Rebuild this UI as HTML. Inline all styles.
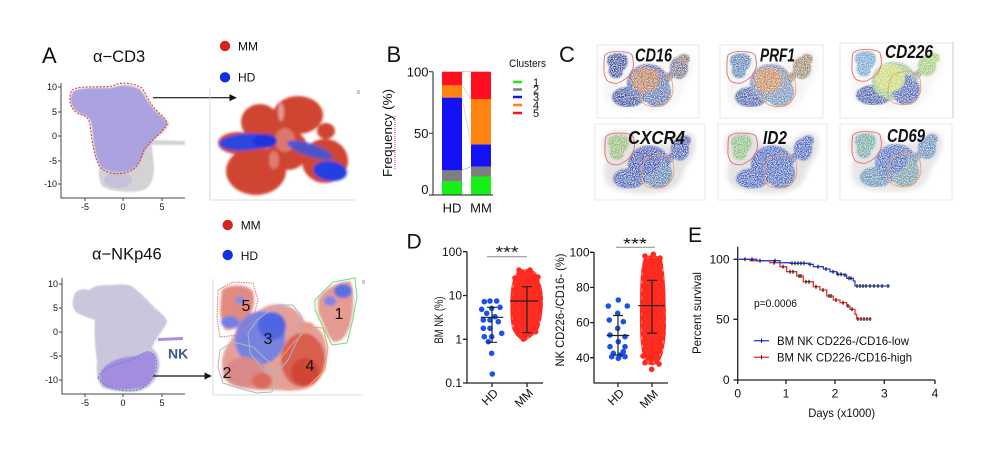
<!DOCTYPE html>
<html><head><meta charset="utf-8">
<style>
html,body{margin:0;padding:0;background:#fff;}
svg{display:block;}
text{font-family:"Liberation Sans",Arial,sans-serif;fill:#111;}
</style></head><body>
<svg width="981" height="451" viewBox="0 0 981 451" xmlns="http://www.w3.org/2000/svg">
<defs>
 <filter id="b06" x="-20%" y="-20%" width="140%" height="140%"><feGaussianBlur stdDeviation="0.7"/></filter>
 <filter id="b1" x="-20%" y="-20%" width="140%" height="140%"><feGaussianBlur stdDeviation="1.3"/></filter>
 <filter id="b3" x="-30%" y="-30%" width="160%" height="160%"><feGaussianBlur stdDeviation="2.5"/></filter>
 <filter id="speck" x="0" y="0" width="100%" height="100%">
  <feTurbulence type="fractalNoise" baseFrequency="1.1" numOctaves="1" seed="7" result="n"/>
  <feColorMatrix in="n" type="matrix" values="0 0 0 0 1  0 0 0 0 1  0 0 0 0 1  0 0 0 -3 1.75" result="w"/>
  <feComposite in="w" in2="SourceAlpha" operator="in" result="wm"/>
  <feMerge><feMergeNode in="SourceGraphic"/><feMergeNode in="wm"/></feMerge>
 </filter>
 <marker id="arr" viewBox="0 0 10 10" refX="9" refY="5" markerWidth="6" markerHeight="6" orient="auto"><path d="M0,0 L10,5 L0,10 z" fill="#111"/></marker>
 <pattern id="pr" width="6" height="8" patternUnits="userSpaceOnUse">
  <circle cx="3" cy="2" r="2.8" fill="#ff2a1f"/><circle cx="3" cy="10" r="2.8" fill="#ff2a1f"/>
  <circle cx="0" cy="6" r="2.8" fill="#ff2a1f"/><circle cx="6" cy="6" r="2.8" fill="#ff2a1f"/>
  <circle cx="0" cy="-2" r="2.8" fill="#ff2a1f"/><circle cx="6" cy="-2" r="2.8" fill="#ff2a1f"/>
 </pattern>
</defs>

<!-- ============ PANEL A ============ -->
<text x="42" y="63" font-size="22">A</text>
<text x="93" y="62" font-size="16.5">α−CD3</text>
<circle cx="225" cy="46" r="5.2" fill="#d0261c"/>
<text x="238" y="50.5" font-size="12">MM</text>
<circle cx="225" cy="77.3" r="5.2" fill="#1030e0"/>
<text x="238" y="81.7" font-size="12">HD</text>

<!-- top-left UMAP -->
<path d="M72,92 C80,86 100,88 113,87 C120,84 132,83 141,89 C147,96 149,103 156,110 C162,116 169,120 169,125 C166,132 158,137 153,140 L185,141 L185,145 L152,145 C152,152 154,160 154,168 C154,180 150,189 140,191 C128,193 108,191 102,186 C98,178 98,170 100,166 C94,158 93,140 91,125 C90,118 86,115 80,114 C74,111 70,106 70,98 Z" fill="#d3d3d5" filter="url(#b06)"/>
<path d="M73,92 C80,87 100,89 113,88 C120,85 131,85 140,90 C145,97 148,104 155,111 C160,116 166,120 167,124 C162,132 152,140 145,150 C141,160 138,168 128,171 C118,173 106,172 101,166 C95,158 94,140 92,125 C91,118 86,115 80,113 C75,110 71,106 71,98 Z" fill="#aaa2de" filter="url(#b06)"/>
<ellipse cx="118" cy="180" rx="14" ry="8" fill="#bdb6dc" opacity="0.6"/>
<path d="M72,90 C80,85 100,88 113,86 C118,82 132,82 142,88 C147,95 149,103 156,110 C161,115 167,120 167,124 C162,133 151,140 144,150 C140,160 139,168 128,172 C118,175 106,174 100,167 C94,158 92,140 90,125 C89,118 85,115 79,114 C73,111 69,105 70,97 C70,94 71,92 72,90 Z" fill="none" stroke="#e53a3a" stroke-width="1.1" stroke-dasharray="2 1.5"/>
<g stroke="#444" stroke-width="1" fill="none">
 <path d="M61,83 V198 H185"/>
 <path d="M58,87 H61 M58,112 H61 M58,136 H61 M58,161 H61 M58,184 H61 M85,198 V201 M123,198 V201 M162,198 V201"/>
</g>
<g font-size="9" text-anchor="end" fill="#333">
 <text x="57" y="90">10</text><text x="57" y="115">5</text><text x="57" y="139">0</text><text x="57" y="164">-5</text><text x="57" y="187">-10</text>
</g>
<g font-size="9" text-anchor="middle" fill="#333">
 <text x="85" y="210">-5</text><text x="123" y="210">0</text><text x="162" y="210">5</text>
</g>
<line x1="153" y1="97.7" x2="236" y2="97.7" stroke="#111" stroke-width="1.2" marker-end="url(#arr)"/>

<!-- top-right UMAP -->
<g stroke="#d2d2d2" stroke-width="0.8" fill="none"><path d="M210,88 V200 H355"/></g>
<line x1="357" y1="91" x2="360" y2="91" stroke="#e06060" stroke-width="0.8"/>
<line x1="357" y1="93" x2="360" y2="93" stroke="#6060e0" stroke-width="0.8"/>
<g filter="url(#b1)">
 <g fill="#d04433">
  <ellipse cx="256" cy="171" rx="30" ry="24"/>
  <ellipse cx="260" cy="122" rx="19" ry="18"/>
  <ellipse cx="298" cy="115" rx="25" ry="19"/>
  <ellipse cx="326" cy="131" rx="9" ry="8"/>
  <ellipse cx="325" cy="161" rx="23" ry="22"/>
  <ellipse cx="288" cy="150" rx="20" ry="20"/>
  <ellipse cx="238" cy="143" rx="20" ry="11"/>
  <ellipse cx="278" cy="132" rx="14" ry="12"/>
 </g>
 <ellipse cx="285" cy="140" rx="10" ry="12" fill="#e0857a" opacity="0.8"/>
 <ellipse cx="246" cy="142" rx="27" ry="8.5" transform="rotate(-4 246 142)" fill="#2a46e0"/>
 <ellipse cx="265" cy="141" rx="12" ry="7" fill="#1c35d8"/>
 <ellipse cx="310" cy="150" rx="24" ry="6.5" transform="rotate(18 310 150)" fill="#3a55e0" opacity="0.85"/>
 <ellipse cx="330" cy="171" rx="17" ry="10" transform="rotate(8 330 171)" fill="#2340e0"/>
 <ellipse cx="281" cy="112" rx="3" ry="9" fill="#fff" opacity="0.45"/>
 <ellipse cx="274" cy="160" rx="5" ry="9" fill="#fff" opacity="0.3"/>
</g>

<!-- bottom A -->
<circle cx="227.7" cy="225" r="5.2" fill="#d0261c"/>
<text x="240.7" y="229.3" font-size="12">MM</text>
<circle cx="227.7" cy="255" r="5.2" fill="#1030e0"/>
<text x="240.7" y="260" font-size="12">HD</text>
<text x="92" y="259.5" font-size="16.5">α−NKp46</text>

<path d="M74,296 C75,290 82,288 90,290 C93,286 98,285 112,285 C122,284 130,284 134,288 C141,293 148,301 155,308 C162,314 167,318 167,322 C164,330 156,337 152,348 C158,352 161,360 159,370 C156,382 149,388 140,391 C125,393 108,391 102,387 C97,381 96,372 97,362 C95,347 94,332 95,320 C90,318 82,316 76,312 C72,308 72,301 74,296 Z" fill="#cac6db" filter="url(#b06)"/>
<path d="M158,338 L183,337 L183,340 L158,341 Z" fill="#a890e0"/>
<path d="M101,372 C106,362 120,357 136,356 C146,352 152,350 155,356 C158,366 154,380 144,387 C130,391 112,390 104,386 C100,382 99,377 101,372 Z" fill="#a48ce0" filter="url(#b06)"/>
<path d="M98,378 C100,370 112,366 130,360 C140,357 145,350 150,352 C158,356 159,368 153,377 C148,386 140,391 128,391 C115,390 103,386 98,378 Z" fill="none" stroke="#5a8fc0" stroke-width="1.1" stroke-dasharray="2 1.5"/>
<text x="168" y="358.5" font-size="14" font-weight="bold" style="fill:#3a5a8c">NK</text>
<g stroke="#444" stroke-width="1" fill="none">
 <path d="M62,278 V394 H185"/>
 <path d="M59,284 H62 M59,308 H62 M59,332 H62 M59,356 H62 M59,380 H62 M85,394 V397 M123,394 V397 M162,394 V397"/>
</g>
<g font-size="9" text-anchor="end" fill="#333">
 <text x="58" y="287">10</text><text x="58" y="311">5</text><text x="58" y="335">0</text><text x="58" y="359">-5</text><text x="58" y="383">-10</text>
</g>
<g font-size="9" text-anchor="middle" fill="#333">
 <text x="85" y="406">-5</text><text x="123" y="406">0</text><text x="162" y="406">5</text>
</g>
<line x1="153" y1="376" x2="211" y2="376" stroke="#111" stroke-width="1.2" marker-end="url(#arr)"/>

<!-- bottom-right cluster UMAP -->
<g stroke="#d2d2d2" stroke-width="0.8" fill="none"><path d="M213,279 V395 H362"/></g>
<line x1="362" y1="281" x2="365" y2="281" stroke="#e06060" stroke-width="0.8"/>
<line x1="362" y1="283" x2="365" y2="283" stroke="#6060e0" stroke-width="0.8"/>
<g filter="url(#b1)">
 <path d="M222,290 C228,284 245,284 252,290 C256,298 254,310 248,318 C242,326 236,330 226,330 C220,326 219,310 222,290 Z" fill="#e38a80"/>
 <ellipse cx="230" cy="322" rx="9" ry="6" fill="#6f80e6"/>
 <ellipse cx="240" cy="300" rx="5" ry="4" fill="#8a8ee0"/>
 <path d="M318,300 C322,292 332,283 350,281 C355,290 354,310 350,325 C347,335 342,342 334,342 C328,338 324,325 318,312 Z" fill="#e59a92"/>
 <ellipse cx="343" cy="291" rx="9" ry="7" fill="#5a6fe0"/>
 <ellipse cx="330" cy="301" rx="6" ry="5" fill="#7b85e4"/>
 <path d="M228,345 C236,330 250,312 270,305 C285,302 298,308 305,322 C315,324 326,332 327,350 C327,370 318,388 300,390 C285,391 275,390 265,390 C250,390 230,388 224,378 C220,365 222,352 228,345 Z" fill="#e4a098"/>
 <ellipse cx="260" cy="338" rx="25" ry="27" transform="rotate(20 260 338)" fill="#6b7fe8" opacity="0.9"/>
 <ellipse cx="272" cy="326" rx="14" ry="14" fill="#4f66e2"/>
 <ellipse cx="303" cy="360" rx="22" ry="27" fill="#d9604f"/>
 <ellipse cx="305" cy="372" rx="14" ry="14" fill="#d04535"/>
 <ellipse cx="245" cy="372" rx="20" ry="15" fill="#d98a88"/>
 <ellipse cx="262" cy="381" rx="10" ry="8" fill="#dc6a5a"/>
 <ellipse cx="306" cy="326" rx="8" ry="4" fill="#e8958a"/>
</g>
<g fill="none" stroke-width="1" stroke-linejoin="round">
 <polygon points="218,290 233,282 253,283 258,300 252,323 238,335 220,337 217,317" stroke="#e07070" stroke-dasharray="1.5 1"/>
 <polygon points="315,300 333,282 355,278 357,297 352,323 347,343 332,345 323,327 315,310" stroke="#6ee06e"/>
 <polygon points="257,320 277,305 293,305 302,317 300,335 288,360 277,373 263,370 250,353 248,333" stroke="#9ab8d8"/>
 <polygon points="293,343 310,327 323,328 328,347 325,370 307,387 287,390 275,383 277,363" stroke="#f0a070"/>
 <polygon points="220,350 233,342 253,347 270,363 275,380 272,392 257,393 238,388 223,383 218,367" stroke="#b5b5b5"/>
</g>
<g font-size="16" text-anchor="middle">
 <text x="246" y="311">5</text><text x="339" y="319">1</text><text x="268" y="344">3</text><text x="310" y="371">4</text><text x="227" y="378">2</text>
</g>

<!-- ============ PANEL B ============ -->
<text x="386.5" y="62" font-size="22">B</text>
<g>
 <rect x="442" y="181.4" width="20" height="13.6" fill="#17f017"/>
 <rect x="442" y="170.3" width="20" height="11.1" fill="#7f7f7f"/>
 <rect x="442" y="97.6" width="20" height="72.7" fill="#1212f5"/>
 <rect x="442" y="85.3" width="20" height="12.3" fill="#ff8310"/>
 <rect x="442" y="71.7" width="20" height="13.6" fill="#ff0f1f"/>
 <rect x="471" y="176.5" width="20" height="18.5" fill="#17f017"/>
 <rect x="471" y="166.6" width="20" height="9.9" fill="#7f7f7f"/>
 <rect x="471" y="144.4" width="20" height="22.2" fill="#1212f5"/>
 <rect x="471" y="99" width="20" height="45.4" fill="#ff8310"/>
 <rect x="471" y="71.7" width="20" height="27.3" fill="#ff0f1f"/>
</g>
<g stroke-width="0.8" fill="none">
 <line x1="462" y1="71.7" x2="471" y2="71.7" stroke="#f6b0a0"/>
 <line x1="462" y1="85.3" x2="471" y2="99" stroke="#f6c0a0"/>
 <line x1="462" y1="97.6" x2="471" y2="144.4" stroke="#f8c8a8"/>
 <line x1="462" y1="170.3" x2="471" y2="166.6" stroke="#a8b0f0"/>
</g>
<g stroke="#444" stroke-width="1.2" fill="none">
 <path d="M433,71.7 V195 H493"/>
 <path d="M429,71.7 H433 M429,133.3 H433 M429,195 H433"/>
</g>
<g font-size="13" text-anchor="end">
 <text x="428.5" y="76.5">100</text><text x="428.5" y="138">50</text><text x="428.5" y="194">0</text>
</g>
<text x="392" y="133" font-size="13" text-anchor="middle" textLength="88" lengthAdjust="spacingAndGlyphs" transform="rotate(-90 392 133)">Frequency (%)</text>
<line x1="395" y1="116" x2="395" y2="170" stroke="#e03030" stroke-width="1" stroke-dasharray="1 1"/>
<g font-size="13" text-anchor="middle">
 <text x="452" y="212.5">HD</text><text x="481" y="212.5">MM</text>
</g>
<text x="509" y="67" font-size="11" textLength="37" lengthAdjust="spacingAndGlyphs">Clusters</text>
<g stroke-width="2.5">
 <line x1="513" y1="82" x2="522" y2="82" stroke="#17f017"/>
 <line x1="513" y1="89.5" x2="522" y2="89.5" stroke="#7f7f7f"/>
 <line x1="513" y1="97" x2="522" y2="97" stroke="#1212f5"/>
 <line x1="513" y1="105" x2="522" y2="105" stroke="#ff8310"/>
 <line x1="513" y1="113" x2="522" y2="113" stroke="#ff0f1f"/>
</g>
<g font-size="11">
 <text x="533" y="86">1</text><text x="533" y="93.5">2</text><text x="533" y="101">3</text><text x="533" y="109">4</text><text x="533" y="117">5</text>
</g>

<!-- ============ PANEL C ============ -->
<text x="559" y="62" font-size="22">C</text>
<g fill="#fff" stroke="#e2e2e2" stroke-width="0.8">
 <rect x="597" y="45" width="102" height="73"/>
 <rect x="720" y="45" width="103" height="73"/>
 <rect x="840" y="43" width="113" height="75"/>
 <rect x="595" y="124" width="110" height="76"/>
 <rect x="718" y="124" width="109" height="76"/>
 <rect x="840" y="124" width="112" height="76"/>
</g>
<line x1="953" y1="42" x2="953" y2="118" stroke="#c8c8c8" stroke-width="1"/>

<!-- tile 1 CD16 -->
<g transform="translate(598,43)">
 <path d="M4,14 C8,4 30,4 36,13 C40,20 44,22 50,21 C60,18 66,19 70,21 C72,10 86,5 95,11 C99,22 94,35 87,41 C83,55 79,66 60,68 C40,70 14,68 8,59 C3,50 6,40 8,34 C3,28 1,20 4,14 Z" fill="#b9b9b9" opacity="0.12" filter="url(#b3)"/>
 <g filter="url(#speck)"><g filter="url(#b06)">
  <path d="M10,14 C14,9 26,9 29,14 C31,20 28,26 24,28 C26,32 22,36 16,35 C11,33 9,27 12,24 C9,21 8,17 10,14 Z" fill="#2c3f9e"/>
  <ellipse cx="30" cy="54" rx="16" ry="10" fill="#2f45a2"/>
  <ellipse cx="50" cy="40" rx="21" ry="19" fill="#4a62ae"/>
  <ellipse cx="59" cy="49" rx="14" ry="15" fill="#5570b0"/>
  <ellipse cx="47" cy="37" rx="14" ry="13" fill="#b27450"/>
  <path d="M64,34 L76,26 L80,30 L68,41 Z" fill="#6d6a8a"/>
  <ellipse cx="81" cy="25" rx="9" ry="11" fill="#6d6a8a"/>
  <ellipse cx="86" cy="16" rx="6" ry="5" fill="#8a7068"/>
 </g></g>
 <path d="M7,12 C12,8 18,8.5 22,8.7 C28,9 33,10 34,12 C35.5,17 35.5,21 35.3,23.7 C34,28 32,32 30.3,33.7 C26,37 22,40 18.7,40.3 C14,40.5 10,39 8.7,37 C6,33 5.5,28 6,23.7 C6,19 6,15 7,12 Z" fill="none" stroke="#e86a6a" stroke-width="0.9"/>
 <path d="M47,33.7 C54,31 60,30 63.7,30.3 C68,31 72,34 73.7,37 C75,42 75,47 74.7,50.3 C73,55 71,58 68.7,60.3 C64,63 59,64 55.3,63.7 C51,63 47,62 45.3,60.3 C43,57 42,55 42,52 C42,45 44,38 47,33.7 Z" fill="none" stroke="#f0a070" stroke-width="0.9"/>
</g>
<!-- tile 2 PRF1 -->
<g transform="translate(721,43)">
 <path d="M4,14 C8,4 30,4 36,13 C40,20 44,22 50,21 C60,18 66,19 70,21 C72,10 86,5 95,11 C99,22 94,35 87,41 C83,55 79,66 60,68 C40,70 14,68 8,59 C3,50 6,40 8,34 C3,28 1,20 4,14 Z" fill="#b9b9b9" opacity="0.15" filter="url(#b3)"/>
 <g filter="url(#speck)"><g filter="url(#b06)">
  <path d="M10,14 C14,9 26,9 29,14 C31,20 28,26 24,28 C26,32 22,36 16,35 C11,33 9,27 12,24 C9,21 8,17 10,14 Z" fill="#4f7fb5"/>
  <ellipse cx="30" cy="54" rx="16" ry="10" fill="#3e5aa9"/>
  <ellipse cx="50" cy="40" rx="21" ry="19" fill="#6a86b8"/>
  <ellipse cx="59" cy="49" rx="14" ry="15" fill="#7090b8"/>
  <ellipse cx="47" cy="37" rx="14" ry="13" fill="#c0844e"/>
  <path d="M64,34 L76,26 L80,30 L68,41 Z" fill="#8a8078"/>
  <ellipse cx="81" cy="25" rx="9" ry="11" fill="#9a8068"/>
  <ellipse cx="86" cy="16" rx="6" ry="5" fill="#a08060"/>
 </g></g>
 <path d="M7,12 C12,8 18,8.5 22,8.7 C28,9 33,10 34,12 C35.5,17 35.5,21 35.3,23.7 C34,28 32,32 30.3,33.7 C26,37 22,40 18.7,40.3 C14,40.5 10,39 8.7,37 C6,33 5.5,28 6,23.7 C6,19 6,15 7,12 Z" fill="none" stroke="#e86a6a" stroke-width="0.9"/>
 <path d="M47,33.7 C54,31 60,30 63.7,30.3 C68,31 72,34 73.7,37 C75,42 75,47 74.7,50.3 C73,55 71,58 68.7,60.3 C64,63 59,64 55.3,63.7 C51,63 47,62 45.3,60.3 C43,57 42,55 42,52 C42,45 44,38 47,33.7 Z" fill="none" stroke="#f0a070" stroke-width="0.9"/>
</g>
<!-- tile 3 CD226 -->
<g transform="translate(846,41)">
 <path d="M4,14 C8,4 30,4 36,13 C40,20 44,22 50,21 C60,18 66,19 70,21 C72,10 86,5 95,11 C99,22 94,35 87,41 C83,55 79,66 60,68 C40,70 14,68 8,59 C3,50 6,40 8,34 C3,28 1,20 4,14 Z" fill="#b9b9b9" opacity="0.12" filter="url(#b3)"/>
 <g filter="url(#speck)"><g filter="url(#b06)">
  <path d="M10,14 C14,9 26,9 29,14 C31,20 28,26 24,28 C26,32 22,36 16,35 C11,33 9,27 12,24 C9,21 8,17 10,14 Z" fill="#6ca2cf"/>
  <ellipse cx="28" cy="54" rx="18" ry="10" fill="#3a58ab"/>
  <ellipse cx="48" cy="40" rx="22" ry="19" fill="#98c48a"/>
  <ellipse cx="60" cy="49" rx="14" ry="15" fill="#3f62b6"/>
  <ellipse cx="44" cy="37" rx="15" ry="14" fill="#c6da66"/>
  <path d="M64,34 L76,26 L80,30 L68,41 Z" fill="#7aa8a0"/>
  <ellipse cx="81" cy="25" rx="9" ry="10" fill="#9dc872"/>
  <ellipse cx="87" cy="17" rx="7" ry="5" fill="#a8d070"/>
 </g></g>
 <path d="M7,12 C12,8 18,8.5 22,8.7 C28,9 33,10 34,12 C35.5,17 35.5,21 35.3,23.7 C34,28 32,32 30.3,33.7 C26,37 22,40 18.7,40.3 C14,40.5 10,39 8.7,37 C6,33 5.5,28 6,23.7 C6,19 6,15 7,12 Z" fill="none" stroke="#e86a6a" stroke-width="0.9"/>
 <path d="M47,33.7 C54,31 60,30 63.7,30.3 C68,31 72,34 73.7,37 C75,42 75,47 74.7,50.3 C73,55 71,58 68.7,60.3 C64,63 59,64 55.3,63.7 C51,63 47,62 45.3,60.3 C43,57 42,55 42,52 C42,45 44,38 47,33.7 Z" fill="none" stroke="#f0a070" stroke-width="0.9"/>
</g>
<!-- tile 4 CXCR4 -->
<g transform="translate(599,124.5)">
 <path d="M4,14 C8,4 30,4 36,13 C40,20 44,22 50,21 C60,18 66,19 70,21 C72,10 86,5 95,11 C99,22 94,35 87,41 C83,55 79,66 60,68 C40,70 14,68 8,59 C3,50 6,40 8,34 C3,28 1,20 4,14 Z" fill="#b0b0b0" opacity="0.35" filter="url(#b3)"/>
 <g filter="url(#speck)"><g filter="url(#b06)">
  <path d="M10,14 C14,9 26,9 29,14 C31,20 28,26 24,28 C26,32 22,36 16,35 C11,33 9,27 12,24 C9,21 8,17 10,14 Z" fill="#8fb86a"/>
  <ellipse cx="30" cy="54" rx="16" ry="10" fill="#3b5db5"/>
  <ellipse cx="50" cy="40" rx="21" ry="19" fill="#3050b2"/>
  <ellipse cx="59" cy="49" rx="14" ry="15" fill="#4f7eb0"/>
  <ellipse cx="47" cy="37" rx="14" ry="13" fill="#2e4cb0"/>
  <path d="M64,34 L76,26 L80,30 L68,41 Z" fill="#3454b4"/>
  <ellipse cx="81" cy="25" rx="9" ry="11" fill="#3454b4"/>
  <ellipse cx="86" cy="16" rx="6" ry="5" fill="#3454b4"/>
 </g></g>
 <path d="M7,12 C12,8 18,8.5 22,8.7 C28,9 33,10 34,12 C35.5,17 35.5,21 35.3,23.7 C34,28 32,32 30.3,33.7 C26,37 22,40 18.7,40.3 C14,40.5 10,39 8.7,37 C6,33 5.5,28 6,23.7 C6,19 6,15 7,12 Z" fill="none" stroke="#e86a6a" stroke-width="0.9"/>
 <path d="M47,33.7 C54,31 60,30 63.7,30.3 C68,31 72,34 73.7,37 C75,42 75,47 74.7,50.3 C73,55 71,58 68.7,60.3 C64,63 59,64 55.3,63.7 C51,63 47,62 45.3,60.3 C43,57 42,55 42,52 C42,45 44,38 47,33.7 Z" fill="none" stroke="#f0a070" stroke-width="0.9"/>
</g>
<!-- tile 5 ID2 -->
<g transform="translate(722,124.5)">
 <path d="M4,14 C8,4 30,4 36,13 C40,20 44,22 50,21 C60,18 66,19 70,21 C72,10 86,5 95,11 C99,22 94,35 87,41 C83,55 79,66 60,68 C40,70 14,68 8,59 C3,50 6,40 8,34 C3,28 1,20 4,14 Z" fill="#b0b0b0" opacity="0.35" filter="url(#b3)"/>
 <g filter="url(#speck)"><g filter="url(#b06)">
  <path d="M10,14 C14,9 26,9 29,14 C31,20 28,26 24,28 C26,32 22,36 16,35 C11,33 9,27 12,24 C9,21 8,17 10,14 Z" fill="#84bc78"/>
  <ellipse cx="30" cy="54" rx="16" ry="10" fill="#3d60c0"/>
  <ellipse cx="50" cy="40" rx="21" ry="19" fill="#3658bf"/>
  <ellipse cx="59" cy="49" rx="14" ry="15" fill="#4166bc"/>
  <ellipse cx="47" cy="37" rx="14" ry="13" fill="#3a5cc2"/>
  <path d="M64,34 L76,26 L80,30 L68,41 Z" fill="#3b5ec0"/>
  <ellipse cx="81" cy="25" rx="9" ry="11" fill="#3b5ec0"/>
  <ellipse cx="86" cy="16" rx="6" ry="5" fill="#3b5ec0"/>
 </g></g>
 <path d="M7,12 C12,8 18,8.5 22,8.7 C28,9 33,10 34,12 C35.5,17 35.5,21 35.3,23.7 C34,28 32,32 30.3,33.7 C26,37 22,40 18.7,40.3 C14,40.5 10,39 8.7,37 C6,33 5.5,28 6,23.7 C6,19 6,15 7,12 Z" fill="none" stroke="#e86a6a" stroke-width="0.9"/>
 <path d="M47,33.7 C54,31 60,30 63.7,30.3 C68,31 72,34 73.7,37 C75,42 75,47 74.7,50.3 C73,55 71,58 68.7,60.3 C64,63 59,64 55.3,63.7 C51,63 47,62 45.3,60.3 C43,57 42,55 42,52 C42,45 44,38 47,33.7 Z" fill="none" stroke="#f0a070" stroke-width="0.9"/>
</g>
<!-- tile 6 CD69 -->
<g transform="translate(846,123)">
 <path d="M4,14 C8,4 30,4 36,13 C40,20 44,22 50,21 C60,18 66,19 70,21 C72,10 86,5 95,11 C99,22 94,35 87,41 C83,55 79,66 60,68 C40,70 14,68 8,59 C3,50 6,40 8,34 C3,28 1,20 4,14 Z" fill="#b0b0b0" opacity="0.3" filter="url(#b3)"/>
 <g filter="url(#speck)"><g filter="url(#b06)">
  <path d="M10,14 C14,9 26,9 29,14 C31,20 28,26 24,28 C26,32 22,36 16,35 C11,33 9,27 12,24 C9,21 8,17 10,14 Z" fill="#6aa6a0"/>
  <ellipse cx="30" cy="54" rx="16" ry="10" fill="#5a90b4"/>
  <ellipse cx="50" cy="40" rx="21" ry="19" fill="#4674c0"/>
  <ellipse cx="59" cy="49" rx="14" ry="15" fill="#6e9aa8"/>
  <ellipse cx="47" cy="37" rx="14" ry="13" fill="#3d66c0"/>
  <path d="M64,34 L76,26 L80,30 L68,41 Z" fill="#5a88b8"/>
  <ellipse cx="81" cy="25" rx="9" ry="11" fill="#5a88b8"/>
  <ellipse cx="86" cy="16" rx="6" ry="5" fill="#5a88b8"/>
 </g></g>
 <path d="M7,12 C12,8 18,8.5 22,8.7 C28,9 33,10 34,12 C35.5,17 35.5,21 35.3,23.7 C34,28 32,32 30.3,33.7 C26,37 22,40 18.7,40.3 C14,40.5 10,39 8.7,37 C6,33 5.5,28 6,23.7 C6,19 6,15 7,12 Z" fill="none" stroke="#e86a6a" stroke-width="0.9"/>
 <path d="M47,33.7 C54,31 60,30 63.7,30.3 C68,31 72,34 73.7,37 C75,42 75,47 74.7,50.3 C73,55 71,58 68.7,60.3 C64,63 59,64 55.3,63.7 C51,63 47,62 45.3,60.3 C43,57 42,55 42,52 C42,45 44,38 47,33.7 Z" fill="none" stroke="#f0a070" stroke-width="0.9"/>
</g>
<g font-size="18" font-weight="bold" font-style="italic">
 <text x="635" y="61.5" textLength="37" lengthAdjust="spacingAndGlyphs">CD16</text>
 <text x="760" y="61.5" textLength="35" lengthAdjust="spacingAndGlyphs">PRF1</text>
 <text x="885" y="58" textLength="48" lengthAdjust="spacingAndGlyphs">CD226</text>
 <text x="628" y="144" textLength="57" lengthAdjust="spacingAndGlyphs">CXCR4</text>
 <text x="763" y="144" textLength="24" lengthAdjust="spacingAndGlyphs">ID2</text>
 <text x="887" y="142" textLength="38" lengthAdjust="spacingAndGlyphs">CD69</text>
</g>

<!-- ============ PANEL D ============ -->
<text x="406.5" y="248.5" font-size="21">D</text>
<g stroke="#222" stroke-width="1.3" fill="none">
 <path d="M467,251.7 V383 H543"/>
 <path d="M463,251.7 H467 M463,295.5 H467 M463,339.3 H467 M463,383 H467 M492,383 V387 M527,383 V387"/>
</g>
<g font-size="12" text-anchor="end">
 <text x="462" y="256">100</text><text x="462" y="299.5">10</text><text x="462" y="343.5">1</text><text x="462" y="387">0.1</text>
</g>
<text x="443" y="320" font-size="12" text-anchor="middle" textLength="47" lengthAdjust="spacingAndGlyphs" transform="rotate(-90 443 320)">BM NK  (%)</text>
<line x1="487" y1="256.7" x2="527" y2="256.7" stroke="#999" stroke-width="1.2"/>
<text x="507" y="257.5" font-size="16" text-anchor="middle" textLength="23" lengthAdjust="spacingAndGlyphs">***</text>
<g fill="#1b4ff0">
 <circle cx="484.3" cy="301.7" r="2.8"/><circle cx="490" cy="301" r="2.8"/><circle cx="496.7" cy="301" r="2.8"/>
 <circle cx="481.7" cy="309.3" r="2.8"/><circle cx="491.7" cy="308.3" r="2.8"/><circle cx="500" cy="307.3" r="2.8"/>
 <circle cx="486.7" cy="313.3" r="2.8"/><circle cx="495" cy="316.7" r="2.8"/><circle cx="483.3" cy="320" r="2.8"/>
 <circle cx="490" cy="320" r="2.8"/><circle cx="498.3" cy="321.7" r="2.8"/><circle cx="483.3" cy="328.3" r="2.8"/>
 <circle cx="490" cy="328.3" r="2.8"/><circle cx="501.7" cy="333.3" r="2.8"/><circle cx="484.3" cy="336.7" r="2.8"/>
 <circle cx="491.7" cy="336.7" r="2.8"/><circle cx="488.3" cy="341.7" r="2.8"/><circle cx="491.7" cy="353.3" r="2.8"/>
 <circle cx="492.3" cy="374" r="2.8"/>
</g>
<path d="M518,274 C522,270 531,270 535,275 C539,281 541,290 541,300 C541,312 540,321 538,327 C535,333 530,336 524,339 C519,336 516,333 514,327 C512,318 512,300 513,290 C514,283 515,277 518,274 Z" fill="#ff3a2c"/>
<path d="M517,272 C522,268 532,268 536,273 C540,280 543,290 543,300 C543,312 541,322 539,328 C536,334 530,338 524,342 C518,338 514,334 512,328 C510,318 510,300 511,290 C512,282 514,276 517,272 Z" fill="url(#pr)"/>
<g fill="#ff2a1f">
 <circle cx="519" cy="270" r="2.8"/><circle cx="530" cy="270" r="2.8"/><circle cx="515" cy="278" r="2.8"/><circle cx="538" cy="277" r="2.8"/>
 <circle cx="518.3" cy="333.3" r="2.8"/><circle cx="525" cy="332.7" r="2.8"/><circle cx="535.7" cy="331.7" r="2.8"/><circle cx="523.3" cy="339" r="2.8"/>
</g>
<g stroke="#222" stroke-width="1.2" fill="none">
 <path d="M480.7,317.3 H503.3 M492,307.3 V342.3 M487,307.3 H497 M487,342.3 H497"/>
 <path d="M510,301 H538.3 M527,286.7 V332.7 M522,286.7 H532 M522,332.7 H532"/>
</g>
<g font-size="12" text-anchor="end">
 <text x="496" y="391" transform="rotate(-45 496 391)" dy="4">HD</text>
 <text x="531" y="391" transform="rotate(-45 531 391)" dy="4">MM</text>
</g>

<g stroke="#222" stroke-width="1.3" fill="none">
 <path d="M594,252.3 V383 H668"/>
 <path d="M590,252.3 H594 M590,287.4 H594 M590,322.6 H594 M590,357.7 H594 M618,383 V387 M652,383 V387"/>
</g>
<g font-size="12" text-anchor="end">
 <text x="589.5" y="256.5">100</text><text x="589.5" y="291.5">80</text><text x="589.5" y="326.7">60</text><text x="589.5" y="362">40</text>
</g>
<text x="564" y="310" font-size="12" text-anchor="middle" textLength="113" lengthAdjust="spacingAndGlyphs" transform="rotate(-90 564 310)">NK CD226-/CD16-  (%)</text>
<line x1="616" y1="247.3" x2="655" y2="247.3" stroke="#999" stroke-width="1.2"/>
<text x="635" y="249" font-size="16" text-anchor="middle" textLength="24" lengthAdjust="spacingAndGlyphs">***</text>
<g fill="#1b4ff0">
 <circle cx="618.3" cy="300" r="2.8"/><circle cx="608.3" cy="306" r="2.8"/><circle cx="627.3" cy="306" r="2.8"/>
 <circle cx="617.7" cy="313.3" r="2.8"/><circle cx="609.3" cy="320" r="2.8"/><circle cx="623.3" cy="321.7" r="2.8"/>
 <circle cx="617.7" cy="328.3" r="2.8"/><circle cx="610" cy="335" r="2.8"/><circle cx="625" cy="336.7" r="2.8"/>
 <circle cx="618.3" cy="341.7" r="2.8"/><circle cx="610" cy="346.7" r="2.8"/><circle cx="625" cy="346.7" r="2.8"/>
 <circle cx="613.3" cy="353.3" r="2.8"/><circle cx="620" cy="355" r="2.8"/><circle cx="623.3" cy="351.7" r="2.8"/>
 <circle cx="611.7" cy="356.7" r="2.8"/><circle cx="618.3" cy="358.3" r="2.8"/><circle cx="625" cy="356.7" r="2.8"/>
</g>
<path d="M645,260 C650,256 657,257 661,262 C664,274 664,300 664,330 C663,344 661,353 658,358 C654,363 649,363 646,359 C643,350 642,340 642,320 C642,292 642,270 645,260 Z" fill="#ff3a2c"/>
<path d="M644,258 C650,253 658,255 662,260 C665,272 666,300 666,330 C665,345 663,355 660,360 C656,366 650,367 645,362 C641,352 640,340 640,320 C640,290 640,268 644,258 Z" fill="url(#pr)"/>
<g fill="#ff2a1f">
 <circle cx="645" cy="256" r="2.8"/><circle cx="653.3" cy="254.3" r="2.8"/><circle cx="660" cy="258" r="2.8"/>
 <circle cx="645" cy="362.7" r="2.8"/><circle cx="659" cy="364" r="2.8"/><circle cx="651.7" cy="369.3" r="2.8"/>
 <circle cx="643" cy="356" r="2.8"/><circle cx="655" cy="358" r="2.8"/>
</g>
<g stroke="#222" stroke-width="1.2" fill="none">
 <path d="M606.7,335.5 H629.3 M618,315.5 V355 M613,315.5 H623 M613,355 H623"/>
 <path d="M638,305.7 H665 M652,280.4 V333.1 M647,280.4 H657 M647,333.1 H657"/>
</g>
<g font-size="12" text-anchor="end">
 <text x="622" y="391" transform="rotate(-45 622 391)" dy="4">HD</text>
 <text x="656" y="392" transform="rotate(-45 656 392)" dy="4">MM</text>
</g>

<!-- ============ PANEL E ============ -->
<text x="688" y="242" font-size="21">E</text>
<g stroke="#222" stroke-width="1.3" fill="none">
 <path d="M737.7,246.7 V380 H935"/>
 <path d="M733.5,259.3 H737.7 M733.5,319.3 H737.7 M733.5,380 H737.7 M737.7,380 V384 M786,380 V384 M835,380 V384 M884.3,380 V384 M935,380 V384"/>
</g>
<g font-size="12" text-anchor="end">
 <text x="729.5" y="263.5">100</text><text x="729.5" y="323.5">50</text><text x="729.5" y="384">0</text>
</g>
<g font-size="12" text-anchor="middle">
 <text x="737.7" y="397.5">0</text><text x="786" y="397.5">1</text><text x="835" y="397.5">2</text><text x="884.3" y="397.5">3</text><text x="935" y="397.5">4</text>
</g>
<text x="841.7" y="417" font-size="12" text-anchor="middle" textLength="67" lengthAdjust="spacingAndGlyphs">Days (x1000)</text>
<text x="701" y="313" font-size="12" text-anchor="middle" textLength="82" lengthAdjust="spacingAndGlyphs" transform="rotate(-90 701 313)">Percent survival</text>
<text x="754" y="307" font-size="11" textLength="43" lengthAdjust="spacingAndGlyphs">p=0.0006</text>

<path d="M737.7,259.3 H750 V260.7 H770 V262.7 H780 V266.7 H786.7 V271.7 H796.7 V276 H803.3 V281.7 H813.3 V286.7 H820 V290 H826.7 V296 H833.3 V300 H840 V302.7 H846.7 V306 H850 V309.3 H855 V314.3 H856.7 V319 H871.7" fill="none" stroke="#f03020" stroke-width="1.3"/>
<path d="M737.7,259.3 H756.7 V260.7 H780 V262.7 H790 V263.3 H808.3 V264.3 H813.3 V266.7 H823.3 V269 H830 V271.7 H836.7 V274.3 H843.3 V275 H846.7 V278.3 H853.3 V281 H855 V286 H890" fill="none" stroke="#2040e0" stroke-width="1.3"/>
<g stroke="#111" stroke-width="1.1">
 <path d="M745,257.3 V261.3 M752,257.3 V261.3 M775,258.7 V262.7 M792,261.3 V265.3 M795,261.3 V265.3 M798,261.3 V265.3 M801,261.3 V265.3 M804,261.3 V265.3 M810,262.3 V266.3 M818,264.7 V268.7 M826,267 V271 M833,269.7 V273.7 M838,272.3 V276.3 M841,272.3 V276.3 M845,273 V277 M849,276.3 V280.3 M851,276.3 V280.3 M857,284 V288 M860,284 V288 M863,284 V288 M866,284 V288 M870,284 V288 M874,284 V288 M878,284 V288 M882,284 V288 M888,284 V288"/>
 <path d="M760,258.7 V262.7 M774,260.7 V264.7 M783,264.7 V268.7 M790,269.7 V273.7 M793,269.7 V273.7 M799,274 V278 M801,274 V278 M806,279.7 V283.7 M809,279.7 V283.7 M816,284.7 V288.7 M823,288 V292 M829,294 V298 M831,294 V298 M836,298 V302 M843,300.7 V304.7 M848,304 V308 M852,307.3 V311.3 M858,317 V321 M861,317 V321 M864,317 V321 M867,317 V321 M870,317 V321"/>
</g>
<line x1="754" y1="340.7" x2="769" y2="340.7" stroke="#2040e0" stroke-width="1.3"/>
<line x1="761.5" y1="338.7" x2="761.5" y2="342.7" stroke="#111" stroke-width="1"/>
<text x="777" y="345" font-size="12" textLength="132" lengthAdjust="spacingAndGlyphs">BM NK CD226-/CD16-low</text>
<line x1="754" y1="357.3" x2="769" y2="357.3" stroke="#f03020" stroke-width="1.3"/>
<line x1="761.5" y1="355.3" x2="761.5" y2="359.3" stroke="#111" stroke-width="1"/>
<text x="777" y="361.5" font-size="12" textLength="135" lengthAdjust="spacingAndGlyphs">BM NK CD226-/CD16-high</text>
</svg>
</body></html>
